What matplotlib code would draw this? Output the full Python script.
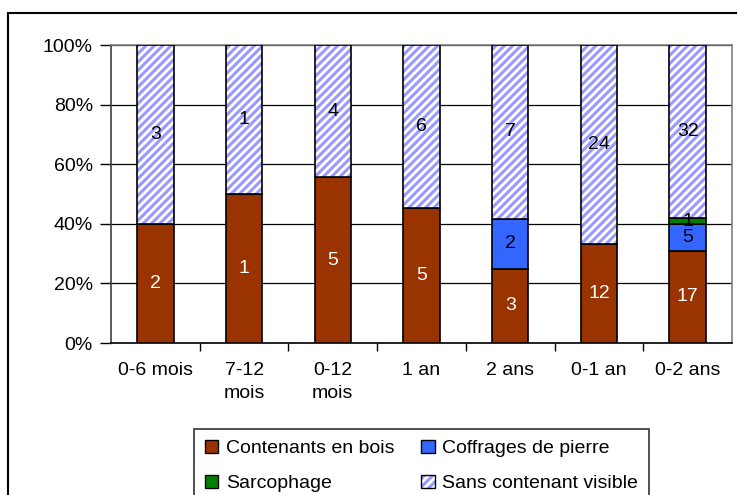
import numpy as np
import matplotlib
matplotlib.use("Agg")
import matplotlib.pyplot as plt
from matplotlib.patches import Patch, Rectangle
from matplotlib.legend_handler import HandlerTuple

categories = ["0-6 mois", "7-12\nmois", "0-12\nmois", "1 an", "2 ans", "0-1 an", "0-2 ans"]
bois = [2, 1, 5, 5, 3, 12, 17]
coffrages = [0, 0, 0, 0, 2, 0, 5]
sarcophage = [0, 0, 0, 0, 0, 0, 1]
sans = [3, 1, 4, 6, 7, 24, 32]

series = [
    ("Contenants en bois", bois, "#993300", "white"),
    ("Coffrages de pierre", coffrages, "#3366FF", "black"),
    ("Sarcophage", sarcophage, "#008000", "black"),
    ("Sans contenant visible", sans, "white", "black"),
]

plt.rcParams['font.family'] = ['Liberation Sans', 'DejaVu Sans']
plt.rcParams['hatch.linewidth'] = 2.2

fig = plt.figure(figsize=(7.37, 4.95), dpi=100)
ax = fig.add_axes([111/737, 1 - 343/495, (732 - 111)/737, (343 - 45)/495])

# outer chart frame (runs past right/bottom edge of the image)
fig.patches.append(Rectangle((8/737, -0.1), 1.2, 1 - 13/495 + 0.1,
                             transform=fig.transFigure, fill=False,
                             edgecolor="black", linewidth=1.5, zorder=0))

x = np.arange(len(categories))
totals = np.sum([s[1] for s in series], axis=0)
bottom = np.zeros(len(categories))
width = 0.41

for name, vals, color, tcolor in series:
    vals = np.array(vals, dtype=float)
    pct = vals / totals * 100
    if name == "Sans contenant visible":
        ax.bar(x, pct, width, bottom=bottom, color="white", hatch="////",
               edgecolor="#9999FF", linewidth=0, zorder=3)
        ax.bar(x, pct, width, bottom=bottom, fill=False,
               edgecolor="black", linewidth=1.2, zorder=4)
    else:
        ax.bar(x, pct, width, bottom=bottom, color=color,
               edgecolor="black", linewidth=1.2, zorder=3)
    for i in range(len(x)):
        if vals[i] > 0:
            ax.text(x[i], bottom[i] + pct[i] / 2, "%d" % vals[i],
                    ha="center", va="center", fontsize=14, color=tcolor, zorder=5)
    bottom = bottom + pct

ax.set_xlim(-0.5, len(categories) - 0.5)
ax.set_ylim(0, 100)
ax.set_yticks([0, 20, 40, 60, 80, 100])
ax.set_yticklabels(["0%", "20%", "40%", "60%", "80%", "100%"])
ax.set_xticks(x)
ax.set_xticklabels(categories, linespacing=1.4)
ax.set_xticks(np.arange(0.5, len(categories) - 0.5), minor=True)
ax.tick_params(axis="x", which="major", length=0, pad=14, labelsize=14)
ax.tick_params(axis="x", which="minor", length=6, width=1, color="black")
ax.tick_params(axis="y", length=8, width=1, pad=5, labelsize=14, color="black")

ax.yaxis.grid(True, color="black", linewidth=0.9, zorder=0)
ax.set_axisbelow(True)
ax.spines["top"].set_color("#808080")
ax.spines["right"].set_color("#808080")
ax.spines["left"].set_color("#404040")
ax.spines["bottom"].set_color("black")
for s in ax.spines.values():
    s.set_linewidth(1.2)

handles = []
for name, vals, color, tcolor in series:
    if name == "Sans contenant visible":
        handles.append((Patch(facecolor="white", edgecolor="#9999FF", hatch="////", linewidth=0),
                        Patch(fill=False, edgecolor="black")))
    else:
        handles.append(Patch(facecolor=color, edgecolor="black"))
labels = [s[0] for s in series]
order = [0, 2, 1, 3]
leg = fig.legend([handles[i] for i in order], [labels[i] for i in order],
                 handler_map={tuple: HandlerTuple(ndivide=1, pad=0)},
                 ncol=2, loc="upper left",
                 bbox_to_anchor=(194/737, 1 - 429/495 - 0.01, (649 - 194)/737, 0.01),
                 mode="expand", fontsize=14, fancybox=False, frameon=True,
                 edgecolor="black", handlelength=0.7, handleheight=0.7,
                 handletextpad=0.4, borderpad=0.55, labelspacing=0.9,
                 borderaxespad=0)
leg.get_frame().set_linewidth(1.2)

fig.savefig("out.png", dpi=100)
